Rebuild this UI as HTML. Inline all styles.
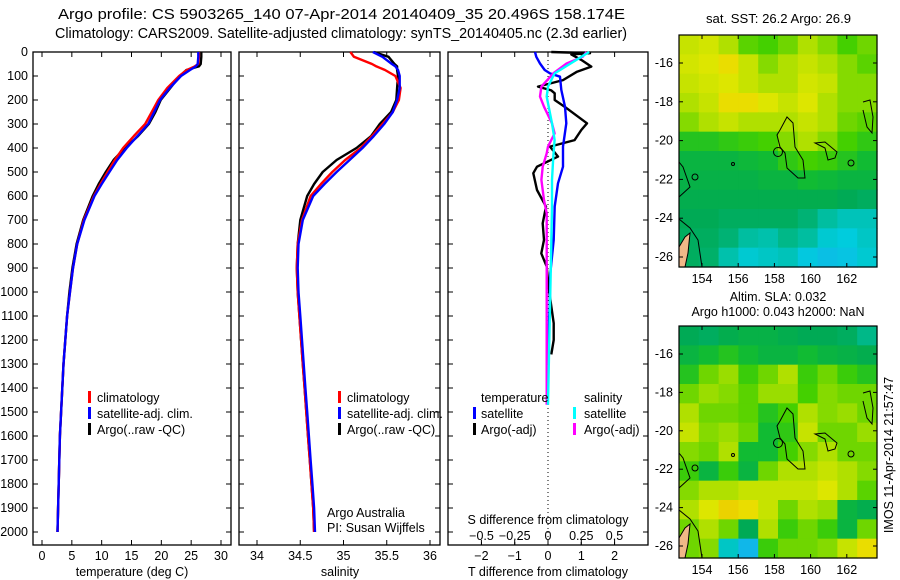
<!DOCTYPE html>
<html><head><meta charset="utf-8"><style>
html,body{margin:0;padding:0;background:#fff;}
svg{display:block;font-family:"Liberation Sans",sans-serif;}
text{font-size:12.5px;fill:#000;}
</style></head><body>
<svg id="s" width="900" height="580" xmlns="http://www.w3.org/2000/svg">
<text x="58" y="19" textLength="567" lengthAdjust="spacingAndGlyphs" style="font-size:14.5px">Argo profile: CS 5903265_140 07-Apr-2014 20140409_35 20.496S 158.174E</text>
<text x="55" y="38" textLength="572" lengthAdjust="spacingAndGlyphs" style="font-size:14.5px">Climatology: CARS2009. Satellite-adjusted climatology: synTS_20140405.nc (2.3d earlier)</text>
<text x="706" y="23" textLength="145" lengthAdjust="spacingAndGlyphs">sat. SST: 26.2 Argo: 26.9</text>
<text x="778" y="301" text-anchor="middle">Altim. SLA: 0.032</text>
<text x="778" y="316" text-anchor="middle">Argo h1000: 0.043 h2000: NaN</text>
<text transform="translate(893,455) rotate(-90)" text-anchor="middle">IMOS 11-Apr-2014 21:57:47</text>
<text x="327" y="517">Argo Australia</text>
<text x="327" y="532">PI: Susan Wijffels</text>
</svg>
<script>
const depthAxis=[0,20,50,60,75,100,150,200,250,300,350,400,450,500,550,600,700,800,900,1000,1100,1200,1300,1400,1500,1600,1700,1800,1900,2000];
const tempClim=[26.3,26.3,26.2,25.6,24.3,23.0,21.0,19.5,18.4,17.3,15.4,13.6,12.2,11.0,9.8,8.7,7.0,5.9,5.2,4.7,4.2,3.9,3.6,3.4,3.2,3.0,2.9,2.8,2.7,2.6];
const tempSat=[26.2,26.2,26.1,25.8,24.8,23.3,21.4,19.8,18.8,17.8,16.0,14.2,12.6,11.3,10.0,8.8,7.1,5.9,5.2,4.7,4.2,3.9,3.6,3.4,3.2,3.0,2.9,2.8,2.7,2.6];
const tempArgo=[26.7,26.7,26.6,26.3,24.2,23.1,21.5,19.9,19.0,17.9,16.1,13.9,12.0,10.7,9.5,8.5,6.9,5.8,5.1,4.6,4.2,3.9,3.6,3.4,3.2,3.0,2.9,2.8,2.7,2.6];
const salClim=[35.08,35.12,35.33,35.38,35.48,35.60,35.66,35.64,35.57,35.45,35.33,35.20,35.02,34.87,34.74,34.62,34.52,34.47,34.46,34.47,34.49,34.51,34.53,34.55,34.57,34.59,34.61,34.63,34.65,34.66];
const salSat=[35.34,35.45,35.56,35.60,35.63,35.65,35.65,35.62,35.57,35.47,35.35,35.22,35.07,34.92,34.78,34.65,34.53,34.48,34.47,34.48,34.50,34.52,34.54,34.56,34.58,34.60,34.62,34.64,34.66,34.67];
const salArgo=[35.35,35.52,35.59,35.62,35.62,35.63,35.62,35.61,35.55,35.42,35.32,35.15,34.92,34.76,34.66,34.58,34.50,34.47,34.46,34.47,34.49,34.51,34.53,34.55,34.57,34.59,34.61,34.63,34.65,34.66];
const dTSatDepth=[0,20,48,75,89,103,158,228,297,394,478,547,644,783,922,1061,1200,1300];
const dTSat=[-0.39,-0.35,-0.24,-0.1,0.06,0.36,0.4,0.51,0.55,0.45,0.45,0.3,0.2,0.17,0.07,0.05,0.0,-0.03];
const dTArgoDepth=[0,5,10,33,61,82,117,144,160,172,200,228,297,325,367,394,436,478,505,575,644,714,783,839,894,992,1130,1200,1260];
const dTArgo=[0.1,1.26,0.7,1.0,1.3,0.87,0.45,-0.3,0.1,0.2,0.2,0.5,1.17,1.0,0.8,0.06,0.3,-0.33,-0.44,-0.33,-0.06,-0.16,-0.12,-0.2,-0.04,0.03,0.17,0.17,0.1];
const dSArgoDepth=[0,20,48,89,144,186,228,297,339,394,422,478,533,617,672,783,1200,1470];
const dSArgo=[0.29,0.26,0.14,0.04,-0.05,-0.06,-0.03,0.03,0.05,0.0,-0.01,-0.04,-0.05,-0.03,-0.01,-0.01,-0.01,-0.01];
const dSSatDepth=[0,20,48,89,144,186,297,367,436,533,644,922,1200,1470];
const dSSat=[0.31,0.25,0.17,0.05,0.0,-0.01,0.03,0.05,0.04,0.03,0.03,0.02,0.01,0.0];
const depthTicks=[0,100,200,300,400,500,600,700,800,900,1000,1100,1200,1300,1400,1500,1600,1700,1800,1900,2000];
const tempTicks=[0,5,10,15,20,25,30];
const salTicks=[34,34.5,35,35.5,36];
const salTickLabels=["34","34.5","35","35.5","36"];
const dTTicks=[-2,-1,0,1,2];
const dSTicks=[-0.5,-0.25,0,0.25,0.5];
const dSTickLabels=["\u22120.5","\u22120.25","0","0.25","0.5"];
const sstGrid=[
[0.62,0.63,0.60,0.56,0.55,0.57,0.60,0.58,0.55,0.57],
[0.63,0.64,0.66,0.62,0.58,0.60,0.62,0.60,0.58,0.56],
[0.62,0.63,0.64,0.62,0.60,0.60,0.63,0.62,0.58,0.58],
[0.60,0.62,0.66,0.66,0.64,0.62,0.64,0.60,0.58,0.58],
[0.58,0.60,0.62,0.60,0.60,0.60,0.62,0.60,0.57,0.56],
[0.52,0.52,0.53,0.54,0.55,0.58,0.60,0.58,0.55,0.53],
[0.48,0.48,0.48,0.49,0.50,0.53,0.55,0.54,0.52,0.50],
[0.47,0.47,0.47,0.47,0.48,0.48,0.50,0.49,0.48,0.48],
[0.46,0.46,0.46,0.46,0.46,0.46,0.46,0.46,0.45,0.44],
[0.45,0.45,0.44,0.44,0.44,0.44,0.42,0.38,0.36,0.36],
[0.44,0.44,0.42,0.38,0.37,0.40,0.38,0.34,0.33,0.35],
[0.44,0.43,0.37,0.34,0.35,0.36,0.32,0.30,0.31,0.34]];
const slaGrid=[
[0.45,0.44,0.46,0.47,0.47,0.46,0.45,0.45,0.44,0.40],
[0.48,0.50,0.52,0.50,0.48,0.48,0.50,0.48,0.47,0.46],
[0.52,0.57,0.59,0.54,0.57,0.60,0.54,0.57,0.54,0.52],
[0.57,0.59,0.58,0.56,0.59,0.59,0.55,0.58,0.57,0.57],
[0.60,0.57,0.57,0.56,0.52,0.55,0.60,0.58,0.59,0.57],
[0.62,0.58,0.59,0.57,0.50,0.53,0.62,0.57,0.57,0.59],
[0.58,0.57,0.60,0.50,0.50,0.55,0.58,0.60,0.57,0.57],
[0.54,0.48,0.54,0.48,0.57,0.60,0.60,0.62,0.60,0.58],
[0.58,0.60,0.60,0.62,0.62,0.62,0.62,0.64,0.60,0.56],
[0.60,0.64,0.67,0.66,0.62,0.57,0.60,0.59,0.48,0.46],
[0.57,0.60,0.57,0.45,0.60,0.54,0.57,0.54,0.48,0.57],
[0.57,0.58,0.35,0.28,0.54,0.57,0.57,0.58,0.62,0.66]];
const lonTicks=[154,156,158,160,162];
const latTicks=[-16,-18,-20,-22,-24,-26];

const S=document.getElementById('s');
const NS='http://www.w3.org/2000/svg';
function mk(tag,attrs,parent){const e=document.createElementNS(NS,tag);for(const k in attrs)e.setAttribute(k,attrs[k]);(parent||S).appendChild(e);return e;}
function txt(x,y,s,anchor,name){const t=mk('text',{x:x,y:y,'text-anchor':anchor||'middle'});t.textContent=s;


return t;}
const TOP=52,BOT=545;
function yD(d){return TOP+d*0.24;}
function linearX(a,b,v0,v1){return v=>a+(v-v0)*(b-a)/(v1-v0);}
const xT=linearX(42,221,0,30);
const xS=linearX(257,430,34,36);
const xDT=linearX(548,614.6,0,2);
const xDS=linearX(548,614.5,0,0.5);

function frame(x0,x1,name){
  const r=mk('rect',{x:x0,y:TOP,width:x1-x0,height:BOT-TOP,fill:'none',stroke:'#000','stroke-width':1.3});
  
  
  depthTicks.forEach(d=>{mk('line',{x1:x0,x2:x0+5,y1:yD(d),y2:yD(d),stroke:'#000'});mk('line',{x1:x1,x2:x1-5,y1:yD(d),y2:yD(d),stroke:'#000'});});
}
function xticks(vals,labels,fx,name){
  vals.forEach((v,i)=>{const x=fx(v);mk('line',{x1:x,x2:x,y1:TOP,y2:TOP+5,stroke:'#000'});mk('line',{x1:x,x2:x,y1:BOT,y2:BOT-5,stroke:'#000'});
  txt(x,560,labels[i],'middle',name);});
}
function line(vals,depths,fx,color,name){
  const pts=vals.map((v,i)=>fx(v).toFixed(1)+','+yD(depths[i]).toFixed(1)).join(' ');
  const p=mk('polyline',{points:pts,fill:'none',stroke:color,'stroke-width':2.4,'stroke-linejoin':'round'});
  
  
}
function legMark(x,y,color){mk('rect',{x:x,y:y-11,width:3,height:12,fill:color});}

frame(33,231,'temperature-panel-frame');
depthTicks.forEach(d=>txt(28,yD(d)+4,String(d),'end','depth-tick-label'));
xticks(tempTicks,tempTicks.map(String),xT,'temperature-tick-label');
txt(132,576,'temperature (deg C)','middle','temperature-axis-title');
line(tempArgo,depthAxis,xT,'#000','temperature-argo-line');
line(tempClim,depthAxis,xT,'#f00','temperature-climatology-line');
line(tempSat,depthAxis,xT,'#00f','temperature-satellite-line');
[['#f00','climatology'],['#00f','satellite-adj. clim.'],['#000','Argo(..raw -QC)']].forEach((l,i)=>{legMark(88,402+i*16,l[0]);txt(97,402+i*16,l[1],'start','temperature-legend-entry');});

frame(239,440,'salinity-panel-frame');
xticks(salTicks,salTickLabels,xS,'salinity-tick-label');
txt(340,576,'salinity','middle','salinity-axis-title');
line(salArgo,depthAxis,xS,'#000','salinity-argo-line');
line(salClim,depthAxis,xS,'#f00','salinity-climatology-line');
line(salSat,depthAxis,xS,'#00f','salinity-satellite-line');
[['#f00','climatology'],['#00f','satellite-adj. clim.'],['#000','Argo(..raw -QC)']].forEach((l,i)=>{legMark(338,402+i*16,l[0]);txt(347,402+i*16,l[1],'start','salinity-legend-entry');});

frame(448,648,'difference-panel-frame');
mk('line',{x1:548,x2:548,y1:TOP,y2:BOT,stroke:'#000','stroke-dasharray':'1,3'});
dTTicks.forEach(v=>{const x=xDT(v);mk('line',{x1:x,x2:x,y1:TOP,y2:TOP+5,stroke:'#000'});mk('line',{x1:x,x2:x,y1:BOT,y2:BOT-5,stroke:'#000'});txt(x,560,String(v).replace('-','\u2212'),'middle','t-diff-tick-label');});
dSTicks.forEach((v,i)=>{const x=xDS(v);mk('line',{x1:x,x2:x,y1:BOT,y2:BOT-3,stroke:'#000'});txt(x,540,dSTickLabels[i],'middle','s-diff-tick-label');});
txt(548,524,'S difference from climatology','middle','s-diff-axis-title');
txt(548,576,'T difference from climatology','middle','t-diff-axis-title');
line(dTArgo,dTArgoDepth,xDT,'#000','t-diff-argo-line');
line(dTSat,dTSatDepth,xDT,'#00f','t-diff-satellite-line');
line(dSArgo,dSArgoDepth,xDS,'#f0f','s-diff-argo-line');
line(dSSat,dSSatDepth,xDS,'#0ff','s-diff-satellite-line');
txt(481,402,'temperature','start','diff-legend-temperature');
txt(584,402,'salinity','start','diff-legend-salinity');
legMark(473,418,'#00f');txt(481,418,'satellite','start','diff-legend-t-satellite');
legMark(473,434,'#000');txt(481,434,'Argo(-adj)','start','diff-legend-t-argo');
legMark(573,418,'#0ff');txt(584,418,'satellite','start','diff-legend-s-satellite');
legMark(573,434,'#f0f');txt(584,434,'Argo(-adj)','start','diff-legend-s-argo');

const stops=[[0.25,[26,170,240]],[0.33,[0,204,221]],[0.40,[0,184,136]],[0.45,[0,170,85]],[0.50,[17,187,51]],[0.55,[68,208,0]],[0.60,[176,224,0]],[0.65,[232,232,0]],[0.70,[240,176,0]]];
function col(v){if(v<=stops[0][0])return 'rgb('+stops[0][1]+')';
for(let i=1;i<stops.length;i++){if(v<=stops[i][0]){const a=stops[i-1],b=stops[i],t=(v-a[0])/(b[0]-a[0]);return 'rgb('+a[1].map((c,k)=>Math.round(c+(b[1][k]-c)*t)).join(',')+')';}}
return 'rgb('+stops[stops.length-1][1]+')';}
function map(top,grid,lat16y,latStep,name){
  const L=679,R=877,B=top+232,W=R-L,H=B-top;
  const g=mk('g',{});
  
  
  const rows=grid.length,cols=grid[0].length;
  grid.forEach((row,r)=>row.forEach((v,c)=>{mk('rect',{x:L+c*W/cols,y:top+r*H/rows,width:W/cols+0.6,height:H/rows+0.6,fill:col(v)},g);}));
  const c=mk('g',{transform:'translate('+L+','+top+')',fill:'none',stroke:'#000','stroke-width':1},g);
  mk('polygon',{points:'0,212 6,202 11,198 9,218 6,232 0,232',fill:'#f0b888',stroke:'#000'},c);
  mk('polygon',{points:'101,95 108,82 114,88 116,112 124,125 126,143 119,143 108,133 106,118 101,112 98,100'},c);
  mk('polygon',{points:'136,108 146,107 158,117 156,123 149,125 146,113'},c);
  mk('polyline',{points:'184,67 191,65 194,82 193,98 188,92 184,75'},c);
  mk('polyline',{points:'0,127 4,132 11,152 0,162'},c);
  mk('polyline',{points:'0,184 11,193 19,205 23,232'},c);
  mk('circle',{cx:99,cy:117,r:4.5},c);mk('circle',{cx:172,cy:128,r:3},c);mk('circle',{cx:16,cy:142,r:3},c);mk('circle',{cx:54,cy:129,r:1.5},c);
  mk('rect',{x:L,y:top,width:W,height:H,fill:'none',stroke:'#000','stroke-width':1.2});
  lonTicks.forEach(lon=>{const x=702+(lon-154)*18.1;mk('line',{x1:x,x2:x,y1:top,y2:top+4,stroke:'#000'});mk('line',{x1:x,x2:x,y1:B,y2:B-4,stroke:'#000'});txt(x,B+16,String(lon),'middle','longitude-tick-label');});
  latTicks.forEach(lat=>{const y=lat16y+(-16-lat)*latStep;mk('line',{x1:L,x2:L+4,y1:y,y2:y,stroke:'#000'});mk('line',{x1:R,x2:R-4,y1:y,y2:y,stroke:'#000'});txt(673,y+4,String(lat),'end','latitude-tick-label');});
}
map(35,sstGrid,63,19.4,'sst-map');
map(326,slaGrid,354,19.2,'sla-map');
</script>
</body></html>
